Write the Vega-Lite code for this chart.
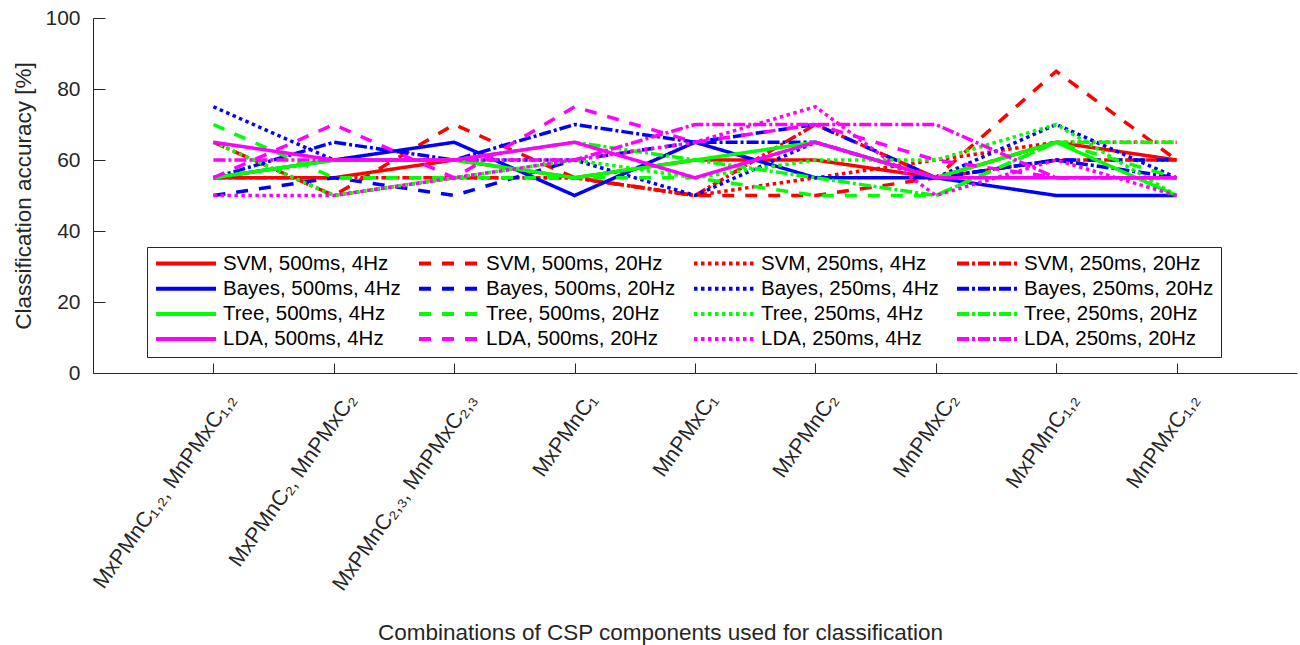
{
  "$schema": "https://vega.github.io/schema/vega-lite/v6.json",
  "autosize": {"type": "none"},
  "padding": {"left": 93, "top": 18, "right": 3, "bottom": 272},
  "width": 1204,
  "height": 355,
  "background": "white",
  "config": {
    "font": "Liberation Sans",
    "view": {"stroke": null},
    "axis": {"grid": false, "domainColor": "#262626", "tickColor": "#262626", "labelColor": "#262626", "titleColor": "#262626", "labelFont": "Liberation Sans", "titleFont": "Liberation Sans", "titleFontWeight": "normal", "domainWidth": 1, "tickWidth": 1}
  },
  "data": {"values": [
    {"series": "SVM, 500ms, 4Hz", "combo": "MxPMnC₁,₂, MnPMxC₁,₂", "acc": 55},
    {"series": "SVM, 500ms, 4Hz", "combo": "MxPMnC₂, MnPMxC₂", "acc": 55},
    {"series": "SVM, 500ms, 4Hz", "combo": "MxPMnC₂,₃, MnPMxC₂,₃", "acc": 60},
    {"series": "SVM, 500ms, 4Hz", "combo": "MxPMnC₁", "acc": 55},
    {"series": "SVM, 500ms, 4Hz", "combo": "MnPMxC₁", "acc": 60},
    {"series": "SVM, 500ms, 4Hz", "combo": "MxPMnC₂", "acc": 60},
    {"series": "SVM, 500ms, 4Hz", "combo": "MnPMxC₂", "acc": 55},
    {"series": "SVM, 500ms, 4Hz", "combo": "MxPMnC₁,₂", "acc": 65},
    {"series": "SVM, 500ms, 4Hz", "combo": "MnPMxC₁,₂", "acc": 60},

    {"series": "SVM, 500ms, 20Hz", "combo": "MxPMnC₁,₂, MnPMxC₁,₂", "acc": 65},
    {"series": "SVM, 500ms, 20Hz", "combo": "MxPMnC₂, MnPMxC₂", "acc": 50},
    {"series": "SVM, 500ms, 20Hz", "combo": "MxPMnC₂,₃, MnPMxC₂,₃", "acc": 70},
    {"series": "SVM, 500ms, 20Hz", "combo": "MxPMnC₁", "acc": 55},
    {"series": "SVM, 500ms, 20Hz", "combo": "MnPMxC₁", "acc": 50},
    {"series": "SVM, 500ms, 20Hz", "combo": "MxPMnC₂", "acc": 50},
    {"series": "SVM, 500ms, 20Hz", "combo": "MnPMxC₂", "acc": 55},
    {"series": "SVM, 500ms, 20Hz", "combo": "MxPMnC₁,₂", "acc": 85},
    {"series": "SVM, 500ms, 20Hz", "combo": "MnPMxC₁,₂", "acc": 60},

    {"series": "SVM, 250ms, 4Hz", "combo": "MxPMnC₁,₂, MnPMxC₁,₂", "acc": 65},
    {"series": "SVM, 250ms, 4Hz", "combo": "MxPMnC₂, MnPMxC₂", "acc": 50},
    {"series": "SVM, 250ms, 4Hz", "combo": "MxPMnC₂,₃, MnPMxC₂,₃", "acc": 55},
    {"series": "SVM, 250ms, 4Hz", "combo": "MxPMnC₁", "acc": 55},
    {"series": "SVM, 250ms, 4Hz", "combo": "MnPMxC₁", "acc": 50},
    {"series": "SVM, 250ms, 4Hz", "combo": "MxPMnC₂", "acc": 55},
    {"series": "SVM, 250ms, 4Hz", "combo": "MnPMxC₂", "acc": 60},
    {"series": "SVM, 250ms, 4Hz", "combo": "MxPMnC₁,₂", "acc": 65},
    {"series": "SVM, 250ms, 4Hz", "combo": "MnPMxC₁,₂", "acc": 65},

    {"series": "SVM, 250ms, 20Hz", "combo": "MxPMnC₁,₂, MnPMxC₁,₂", "acc": 55},
    {"series": "SVM, 250ms, 20Hz", "combo": "MxPMnC₂, MnPMxC₂", "acc": 55},
    {"series": "SVM, 250ms, 20Hz", "combo": "MxPMnC₂,₃, MnPMxC₂,₃", "acc": 55},
    {"series": "SVM, 250ms, 20Hz", "combo": "MxPMnC₁", "acc": 55},
    {"series": "SVM, 250ms, 20Hz", "combo": "MnPMxC₁", "acc": 50},
    {"series": "SVM, 250ms, 20Hz", "combo": "MxPMnC₂", "acc": 70},
    {"series": "SVM, 250ms, 20Hz", "combo": "MnPMxC₂", "acc": 55},
    {"series": "SVM, 250ms, 20Hz", "combo": "MxPMnC₁,₂", "acc": 60},
    {"series": "SVM, 250ms, 20Hz", "combo": "MnPMxC₁,₂", "acc": 60},

    {"series": "Bayes, 500ms, 4Hz", "combo": "MxPMnC₁,₂, MnPMxC₁,₂", "acc": 55},
    {"series": "Bayes, 500ms, 4Hz", "combo": "MxPMnC₂, MnPMxC₂", "acc": 60},
    {"series": "Bayes, 500ms, 4Hz", "combo": "MxPMnC₂,₃, MnPMxC₂,₃", "acc": 65},
    {"series": "Bayes, 500ms, 4Hz", "combo": "MxPMnC₁", "acc": 50},
    {"series": "Bayes, 500ms, 4Hz", "combo": "MnPMxC₁", "acc": 65},
    {"series": "Bayes, 500ms, 4Hz", "combo": "MxPMnC₂", "acc": 55},
    {"series": "Bayes, 500ms, 4Hz", "combo": "MnPMxC₂", "acc": 55},
    {"series": "Bayes, 500ms, 4Hz", "combo": "MxPMnC₁,₂", "acc": 50},
    {"series": "Bayes, 500ms, 4Hz", "combo": "MnPMxC₁,₂", "acc": 50},

    {"series": "Bayes, 500ms, 20Hz", "combo": "MxPMnC₁,₂, MnPMxC₁,₂", "acc": 50},
    {"series": "Bayes, 500ms, 20Hz", "combo": "MxPMnC₂, MnPMxC₂", "acc": 55},
    {"series": "Bayes, 500ms, 20Hz", "combo": "MxPMnC₂,₃, MnPMxC₂,₃", "acc": 50},
    {"series": "Bayes, 500ms, 20Hz", "combo": "MxPMnC₁", "acc": 60},
    {"series": "Bayes, 500ms, 20Hz", "combo": "MnPMxC₁", "acc": 65},
    {"series": "Bayes, 500ms, 20Hz", "combo": "MxPMnC₂", "acc": 70},
    {"series": "Bayes, 500ms, 20Hz", "combo": "MnPMxC₂", "acc": 55},
    {"series": "Bayes, 500ms, 20Hz", "combo": "MxPMnC₁,₂", "acc": 60},
    {"series": "Bayes, 500ms, 20Hz", "combo": "MnPMxC₁,₂", "acc": 60},

    {"series": "Bayes, 250ms, 4Hz", "combo": "MxPMnC₁,₂, MnPMxC₁,₂", "acc": 75},
    {"series": "Bayes, 250ms, 4Hz", "combo": "MxPMnC₂, MnPMxC₂", "acc": 60},
    {"series": "Bayes, 250ms, 4Hz", "combo": "MxPMnC₂,₃, MnPMxC₂,₃", "acc": 60},
    {"series": "Bayes, 250ms, 4Hz", "combo": "MxPMnC₁", "acc": 60},
    {"series": "Bayes, 250ms, 4Hz", "combo": "MnPMxC₁", "acc": 50},
    {"series": "Bayes, 250ms, 4Hz", "combo": "MxPMnC₂", "acc": 65},
    {"series": "Bayes, 250ms, 4Hz", "combo": "MnPMxC₂", "acc": 55},
    {"series": "Bayes, 250ms, 4Hz", "combo": "MxPMnC₁,₂", "acc": 70},
    {"series": "Bayes, 250ms, 4Hz", "combo": "MnPMxC₁,₂", "acc": 55},

    {"series": "Bayes, 250ms, 20Hz", "combo": "MxPMnC₁,₂, MnPMxC₁,₂", "acc": 55},
    {"series": "Bayes, 250ms, 20Hz", "combo": "MxPMnC₂, MnPMxC₂", "acc": 65},
    {"series": "Bayes, 250ms, 20Hz", "combo": "MxPMnC₂,₃, MnPMxC₂,₃", "acc": 60},
    {"series": "Bayes, 250ms, 20Hz", "combo": "MxPMnC₁", "acc": 70},
    {"series": "Bayes, 250ms, 20Hz", "combo": "MnPMxC₁", "acc": 65},
    {"series": "Bayes, 250ms, 20Hz", "combo": "MxPMnC₂", "acc": 65},
    {"series": "Bayes, 250ms, 20Hz", "combo": "MnPMxC₂", "acc": 55},
    {"series": "Bayes, 250ms, 20Hz", "combo": "MxPMnC₁,₂", "acc": 60},
    {"series": "Bayes, 250ms, 20Hz", "combo": "MnPMxC₁,₂", "acc": 55},

    {"series": "Tree, 500ms, 4Hz", "combo": "MxPMnC₁,₂, MnPMxC₁,₂", "acc": 55},
    {"series": "Tree, 500ms, 4Hz", "combo": "MxPMnC₂, MnPMxC₂", "acc": 60},
    {"series": "Tree, 500ms, 4Hz", "combo": "MxPMnC₂,₃, MnPMxC₂,₃", "acc": 60},
    {"series": "Tree, 500ms, 4Hz", "combo": "MxPMnC₁", "acc": 55},
    {"series": "Tree, 500ms, 4Hz", "combo": "MnPMxC₁", "acc": 60},
    {"series": "Tree, 500ms, 4Hz", "combo": "MxPMnC₂", "acc": 65},
    {"series": "Tree, 500ms, 4Hz", "combo": "MnPMxC₂", "acc": 55},
    {"series": "Tree, 500ms, 4Hz", "combo": "MxPMnC₁,₂", "acc": 65},
    {"series": "Tree, 500ms, 4Hz", "combo": "MnPMxC₁,₂", "acc": 50},

    {"series": "Tree, 500ms, 20Hz", "combo": "MxPMnC₁,₂, MnPMxC₁,₂", "acc": 70},
    {"series": "Tree, 500ms, 20Hz", "combo": "MxPMnC₂, MnPMxC₂", "acc": 55},
    {"series": "Tree, 500ms, 20Hz", "combo": "MxPMnC₂,₃, MnPMxC₂,₃", "acc": 55},
    {"series": "Tree, 500ms, 20Hz", "combo": "MxPMnC₁", "acc": 55},
    {"series": "Tree, 500ms, 20Hz", "combo": "MnPMxC₁", "acc": 55},
    {"series": "Tree, 500ms, 20Hz", "combo": "MxPMnC₂", "acc": 50},
    {"series": "Tree, 500ms, 20Hz", "combo": "MnPMxC₂", "acc": 50},
    {"series": "Tree, 500ms, 20Hz", "combo": "MxPMnC₁,₂", "acc": 65},
    {"series": "Tree, 500ms, 20Hz", "combo": "MnPMxC₁,₂", "acc": 55},

    {"series": "Tree, 250ms, 4Hz", "combo": "MxPMnC₁,₂, MnPMxC₁,₂", "acc": 65},
    {"series": "Tree, 250ms, 4Hz", "combo": "MxPMnC₂, MnPMxC₂", "acc": 50},
    {"series": "Tree, 250ms, 4Hz", "combo": "MxPMnC₂,₃, MnPMxC₂,₃", "acc": 55},
    {"series": "Tree, 250ms, 4Hz", "combo": "MxPMnC₁", "acc": 60},
    {"series": "Tree, 250ms, 4Hz", "combo": "MnPMxC₁", "acc": 55},
    {"series": "Tree, 250ms, 4Hz", "combo": "MxPMnC₂", "acc": 60},
    {"series": "Tree, 250ms, 4Hz", "combo": "MnPMxC₂", "acc": 60},
    {"series": "Tree, 250ms, 4Hz", "combo": "MxPMnC₁,₂", "acc": 70},
    {"series": "Tree, 250ms, 4Hz", "combo": "MnPMxC₁,₂", "acc": 50},

    {"series": "Tree, 250ms, 20Hz", "combo": "MxPMnC₁,₂, MnPMxC₁,₂", "acc": 55},
    {"series": "Tree, 250ms, 20Hz", "combo": "MxPMnC₂, MnPMxC₂", "acc": 60},
    {"series": "Tree, 250ms, 20Hz", "combo": "MxPMnC₂,₃, MnPMxC₂,₃", "acc": 60},
    {"series": "Tree, 250ms, 20Hz", "combo": "MxPMnC₁", "acc": 65},
    {"series": "Tree, 250ms, 20Hz", "combo": "MnPMxC₁", "acc": 60},
    {"series": "Tree, 250ms, 20Hz", "combo": "MxPMnC₂", "acc": 55},
    {"series": "Tree, 250ms, 20Hz", "combo": "MnPMxC₂", "acc": 50},
    {"series": "Tree, 250ms, 20Hz", "combo": "MxPMnC₁,₂", "acc": 65},
    {"series": "Tree, 250ms, 20Hz", "combo": "MnPMxC₁,₂", "acc": 65},

    {"series": "LDA, 500ms, 4Hz", "combo": "MxPMnC₁,₂, MnPMxC₁,₂", "acc": 65},
    {"series": "LDA, 500ms, 4Hz", "combo": "MxPMnC₂, MnPMxC₂", "acc": 60},
    {"series": "LDA, 500ms, 4Hz", "combo": "MxPMnC₂,₃, MnPMxC₂,₃", "acc": 60},
    {"series": "LDA, 500ms, 4Hz", "combo": "MxPMnC₁", "acc": 65},
    {"series": "LDA, 500ms, 4Hz", "combo": "MnPMxC₁", "acc": 55},
    {"series": "LDA, 500ms, 4Hz", "combo": "MxPMnC₂", "acc": 65},
    {"series": "LDA, 500ms, 4Hz", "combo": "MnPMxC₂", "acc": 55},
    {"series": "LDA, 500ms, 4Hz", "combo": "MxPMnC₁,₂", "acc": 55},
    {"series": "LDA, 500ms, 4Hz", "combo": "MnPMxC₁,₂", "acc": 55},

    {"series": "LDA, 500ms, 20Hz", "combo": "MxPMnC₁,₂, MnPMxC₁,₂", "acc": 55},
    {"series": "LDA, 500ms, 20Hz", "combo": "MxPMnC₂, MnPMxC₂", "acc": 70},
    {"series": "LDA, 500ms, 20Hz", "combo": "MxPMnC₂,₃, MnPMxC₂,₃", "acc": 55},
    {"series": "LDA, 500ms, 20Hz", "combo": "MxPMnC₁", "acc": 75},
    {"series": "LDA, 500ms, 20Hz", "combo": "MnPMxC₁", "acc": 65},
    {"series": "LDA, 500ms, 20Hz", "combo": "MxPMnC₂", "acc": 70},
    {"series": "LDA, 500ms, 20Hz", "combo": "MnPMxC₂", "acc": 60},
    {"series": "LDA, 500ms, 20Hz", "combo": "MxPMnC₁,₂", "acc": 55},
    {"series": "LDA, 500ms, 20Hz", "combo": "MnPMxC₁,₂", "acc": 55},

    {"series": "LDA, 250ms, 4Hz", "combo": "MxPMnC₁,₂, MnPMxC₁,₂", "acc": 50},
    {"series": "LDA, 250ms, 4Hz", "combo": "MxPMnC₂, MnPMxC₂", "acc": 50},
    {"series": "LDA, 250ms, 4Hz", "combo": "MxPMnC₂,₃, MnPMxC₂,₃", "acc": 55},
    {"series": "LDA, 250ms, 4Hz", "combo": "MxPMnC₁", "acc": 60},
    {"series": "LDA, 250ms, 4Hz", "combo": "MnPMxC₁", "acc": 65},
    {"series": "LDA, 250ms, 4Hz", "combo": "MxPMnC₂", "acc": 75},
    {"series": "LDA, 250ms, 4Hz", "combo": "MnPMxC₂", "acc": 50},
    {"series": "LDA, 250ms, 4Hz", "combo": "MxPMnC₁,₂", "acc": 60},
    {"series": "LDA, 250ms, 4Hz", "combo": "MnPMxC₁,₂", "acc": 50},

    {"series": "LDA, 250ms, 20Hz", "combo": "MxPMnC₁,₂, MnPMxC₁,₂", "acc": 60},
    {"series": "LDA, 250ms, 20Hz", "combo": "MxPMnC₂, MnPMxC₂", "acc": 60},
    {"series": "LDA, 250ms, 20Hz", "combo": "MxPMnC₂,₃, MnPMxC₂,₃", "acc": 60},
    {"series": "LDA, 250ms, 20Hz", "combo": "MxPMnC₁", "acc": 60},
    {"series": "LDA, 250ms, 20Hz", "combo": "MnPMxC₁", "acc": 70},
    {"series": "LDA, 250ms, 20Hz", "combo": "MxPMnC₂", "acc": 70},
    {"series": "LDA, 250ms, 20Hz", "combo": "MnPMxC₂", "acc": 70},
    {"series": "LDA, 250ms, 20Hz", "combo": "MxPMnC₁,₂", "acc": 55},
    {"series": "LDA, 250ms, 20Hz", "combo": "MnPMxC₁,₂", "acc": 55}
  ]},
  "mark": {"type": "line", "strokeWidth": 3.5, "strokeCap": "butt", "strokeJoin": "miter"},
  "encoding": {
    "x": {
      "field": "combo", "type": "nominal",
      "sort": ["MxPMnC₁,₂, MnPMxC₁,₂", "MxPMnC₂, MnPMxC₂", "MxPMnC₂,₃, MnPMxC₂,₃", "MxPMnC₁", "MnPMxC₁", "MxPMnC₂", "MnPMxC₂", "MxPMnC₁,₂", "MnPMxC₁,₂"],
      "scale": {"type": "point", "padding": 1},
      "axis": {
        "title": "Combinations of CSP components used for classification",
        "titleFontSize": 22.5, "titleX": 567, "titleY": 259, "titleAlign": "center", "titleBaseline": "middle",
        "labelAngle": -55, "labelAlign": "right", "labelBaseline": "middle", "labelFontSize": 21.5,
        "labelPadding": 33, "labelOffset": 18, "tickSize": -10, "labelLimit": 400
      }
    },
    "y": {
      "field": "acc", "type": "quantitative",
      "scale": {"domain": [0, 100], "nice": false, "zero": true},
      "axis": {
        "title": "Classification accuracy [%]", "values": [0, 20, 40, 60, 80, 100],
        "titleFontSize": 22.5, "titleX": -70, "titleY": 177.5, "titleAngle": -90, "titleAlign": "center", "titleBaseline": "middle",
        "labelFontSize": 21, "labelPadding": 25, "tickSize": -12
      }
    },
    "color": {
      "field": "series", "type": "nominal",
      "sort": ["SVM, 500ms, 4Hz", "SVM, 500ms, 20Hz", "SVM, 250ms, 4Hz", "SVM, 250ms, 20Hz", "Bayes, 500ms, 4Hz", "Bayes, 500ms, 20Hz", "Bayes, 250ms, 4Hz", "Bayes, 250ms, 20Hz", "Tree, 500ms, 4Hz", "Tree, 500ms, 20Hz", "Tree, 250ms, 4Hz", "Tree, 250ms, 20Hz", "LDA, 500ms, 4Hz", "LDA, 500ms, 20Hz", "LDA, 250ms, 4Hz", "LDA, 250ms, 20Hz"],
      "scale": {
        "domain": ["SVM, 500ms, 4Hz", "SVM, 500ms, 20Hz", "SVM, 250ms, 4Hz", "SVM, 250ms, 20Hz", "Bayes, 500ms, 4Hz", "Bayes, 500ms, 20Hz", "Bayes, 250ms, 4Hz", "Bayes, 250ms, 20Hz", "Tree, 500ms, 4Hz", "Tree, 500ms, 20Hz", "Tree, 250ms, 4Hz", "Tree, 250ms, 20Hz", "LDA, 500ms, 4Hz", "LDA, 500ms, 20Hz", "LDA, 250ms, 4Hz", "LDA, 250ms, 20Hz"],
        "range": ["#ff0000", "#ff0000", "#ff0000", "#ff0000", "#0000ff", "#0000ff", "#0000ff", "#0000ff", "#00ff00", "#00ff00", "#00ff00", "#00ff00", "#ff00ff", "#ff00ff", "#ff00ff", "#ff00ff"]
      },
      "legend": {
        "title": null, "orient": "none", "legendX": 54, "legendY": 229, "columns": 4, "direction": "horizontal",
        "symbolType": "stroke", "symbolSize": 3600, "symbolStrokeWidth": 4, "symbolOffset": 0, "clipHeight": 19,
        "labelFontSize": 20.5, "labelFont": "Liberation Sans", "labelColor": "#000000", "labelOffset": 5, "labelLimit": 400,
        "columnPadding": 16, "rowPadding": 4.2, "padding": 7, "gridAlign": "each",
        "strokeColor": "#262626", "fillColor": "#ffffff", "cornerRadius": 0
      }
    },
    "strokeDash": {
      "field": "series", "type": "nominal",
      "sort": ["SVM, 500ms, 4Hz", "SVM, 500ms, 20Hz", "SVM, 250ms, 4Hz", "SVM, 250ms, 20Hz", "Bayes, 500ms, 4Hz", "Bayes, 500ms, 20Hz", "Bayes, 250ms, 4Hz", "Bayes, 250ms, 20Hz", "Tree, 500ms, 4Hz", "Tree, 500ms, 20Hz", "Tree, 250ms, 4Hz", "Tree, 250ms, 20Hz", "LDA, 500ms, 4Hz", "LDA, 500ms, 20Hz", "LDA, 250ms, 4Hz", "LDA, 250ms, 20Hz"],
      "scale": {
        "domain": ["SVM, 500ms, 4Hz", "SVM, 500ms, 20Hz", "SVM, 250ms, 4Hz", "SVM, 250ms, 20Hz", "Bayes, 500ms, 4Hz", "Bayes, 500ms, 20Hz", "Bayes, 250ms, 4Hz", "Bayes, 250ms, 20Hz", "Tree, 500ms, 4Hz", "Tree, 500ms, 20Hz", "Tree, 250ms, 4Hz", "Tree, 250ms, 20Hz", "LDA, 500ms, 4Hz", "LDA, 500ms, 20Hz", "LDA, 250ms, 4Hz", "LDA, 250ms, 20Hz"],
        "range": [[1, 0], [12, 11], [3.5, 3.5], [12, 3, 3, 3], [1, 0], [12, 11], [3.5, 3.5], [12, 3, 3, 3], [1, 0], [12, 11], [3.5, 3.5], [12, 3, 3, 3], [1, 0], [12, 11], [3.5, 3.5], [12, 3, 3, 3]]
      },
      "legend": {
        "title": null, "orient": "none", "legendX": 54, "legendY": 229, "columns": 4, "direction": "horizontal",
        "symbolType": "stroke", "symbolSize": 3600, "symbolStrokeWidth": 4, "symbolOffset": 0, "clipHeight": 19,
        "labelFontSize": 20.5, "labelFont": "Liberation Sans", "labelColor": "#000000", "labelOffset": 5, "labelLimit": 400,
        "columnPadding": 16, "rowPadding": 4.2, "padding": 7, "gridAlign": "each",
        "strokeColor": "#262626", "fillColor": "#ffffff", "cornerRadius": 0
      }
    }
  }
}
